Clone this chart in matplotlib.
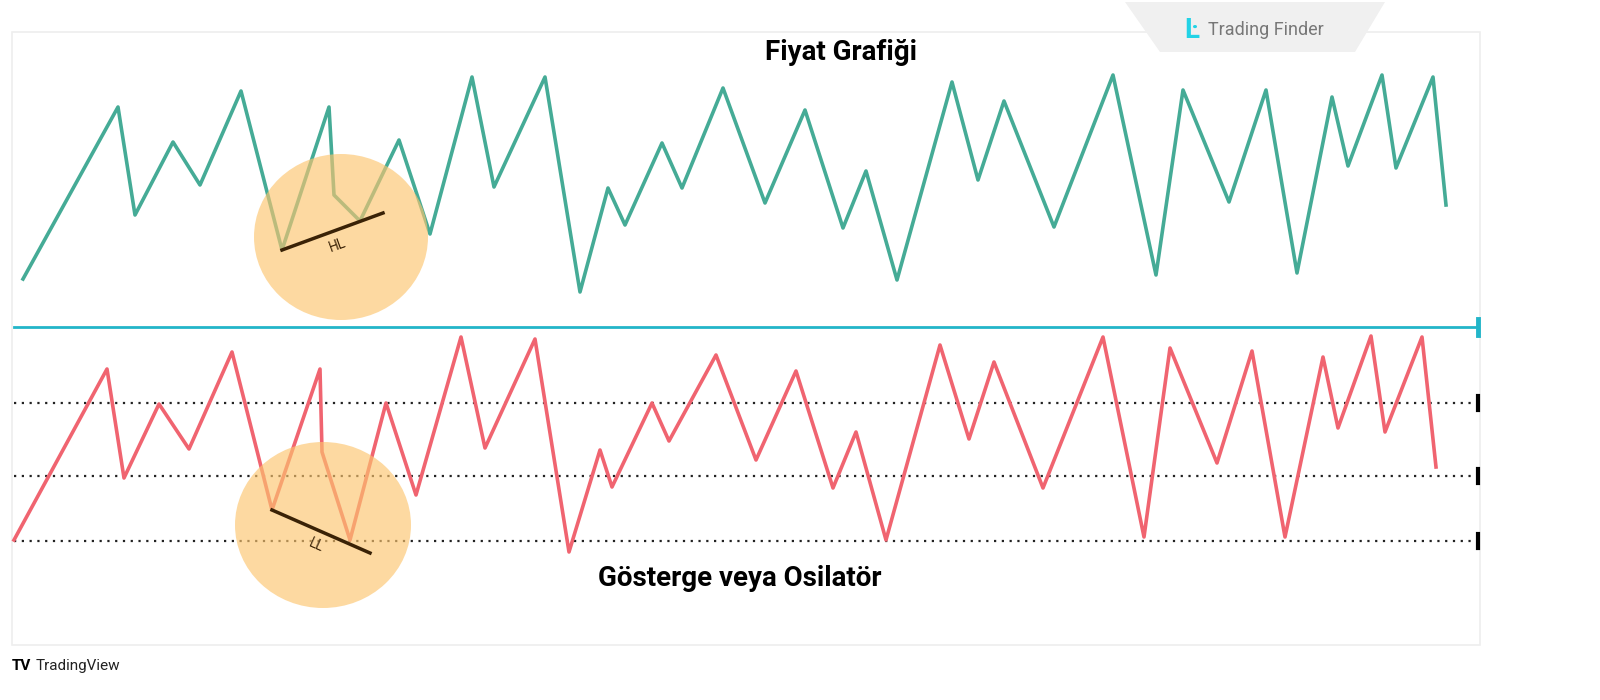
import numpy as np
import matplotlib

matplotlib.use("Agg")
import matplotlib.pyplot as plt
from matplotlib.patches import Ellipse, Polygon, Rectangle

plt.rcParams["font.family"] = ["Roboto", "DejaVu Sans"]

# Price line (x, y) in pixel units
price_x = [23, 118, 135, 173, 200, 241, 282, 329, 334, 360, 399, 430, 472, 494, 545, 580, 608,
           625, 662, 682, 723, 765, 805, 843, 866, 897, 952, 978, 1004, 1054, 1113, 1156, 1183,
           1229, 1266, 1297, 1332, 1348, 1382, 1396, 1433, 1446]
price_y = [279, 107, 215, 142, 185, 91, 250, 107, 195, 221, 140, 234, 77, 187, 77, 292, 188,
           225, 143, 188, 88, 203, 110, 228, 171, 280, 82, 180, 101, 227, 75, 275, 90,
           202, 90, 273, 97, 166, 75, 168, 77, 205]

# Oscillator line
osc_x = [14, 107, 124, 159, 189, 232, 272, 320, 322, 350, 386, 416, 461, 485, 535, 569, 600,
         612, 652, 669, 716, 756, 796, 833, 856, 886, 940, 969, 994, 1043, 1103, 1144, 1170,
         1217, 1252, 1285, 1323, 1338, 1371, 1385, 1422, 1436]
osc_y = [540, 369, 478, 404, 449, 352, 510, 369, 452, 540, 403, 495, 337, 448, 339, 552, 450,
         487, 403, 441, 355, 460, 371, 488, 432, 540, 345, 439, 362, 488, 337, 537, 348,
         463, 351, 537, 357, 428, 336, 432, 337, 467]

level_y = [403, 476, 541]
separator_y = 327

fig = plt.figure(figsize=(16, 7), dpi=100)
ax = fig.add_axes([0, 0, 1, 1])
ax.set_xlim(0, 1600)
ax.set_ylim(700, 0)
ax.axis("off")

# frame
ax.add_patch(Rectangle((12, 32), 1468, 613, fill=False, edgecolor="#eeeeee", lw=1.2))

# logo tab
ax.add_patch(Polygon([(1125, 2), (1385, 2), (1355, 52), (1160, 52)], closed=True,
                     facecolor="#f0f0f0", edgecolor="none"))
ax.text(1192, 30, "Ŀ", color="#22d3e6", fontsize=20, fontweight="bold", ha="center", va="center")
ax.text(1208, 30, "Trading Finder", color="#777777", fontsize=13, ha="left", va="center")

# highlight circles
ax.add_patch(Ellipse((341, 237), 174, 166, facecolor="#fcc56f", alpha=0.65, edgecolor="none", zorder=3))
ax.add_patch(Ellipse((323, 525), 176, 166, facecolor="#fcc56f", alpha=0.65, edgecolor="none", zorder=3))

ax.plot(price_x, price_y, color="#45ab96", lw=2.6, zorder=2)
ax.plot(osc_x, osc_y, color="#f06470", lw=2.6, zorder=2)

for y in level_y:
    ax.plot([14, 1478], [y, y], color="#222222", lw=1.6, ls=(0, (1, 2.5)), zorder=1)
    ax.plot([1478, 1478], [y - 7, y + 7], color="black", lw=3)
ax.plot([14, 1478], [separator_y, separator_y], color="#22b5c9", lw=2)
ax.plot([1478, 1478], [separator_y - 8, separator_y + 8], color="#22b5c9", lw=3.5)

# HL / LL annotations
ax.plot([282, 383], [250, 213], color="#3a2206", lw=2.5, zorder=4)
ax.text(338, 245, "HL", rotation=20, fontsize=10, color="#3a2206", ha="center", va="center", zorder=4)
ax.plot([272, 370], [510, 553], color="#3a2206", lw=2.5, zorder=4)
ax.text(316, 545, "LL", rotation=-24, fontsize=10, color="#3a2206", ha="center", va="center", zorder=4)

ax.text(841, 52, "Fiyat Grafiği", fontsize=20, fontweight="bold", ha="center", va="center")
ax.text(740, 578, "Gösterge veya Osilatör", fontsize=20, fontweight="bold", ha="center", va="center")

ax.text(12, 666, "TV", fontsize=11, fontweight="bold", ha="left", va="center")
ax.text(36, 666, "TradingView", fontsize=11, color="#222222", ha="left", va="center")

fig.savefig("out.png", dpi=100)
